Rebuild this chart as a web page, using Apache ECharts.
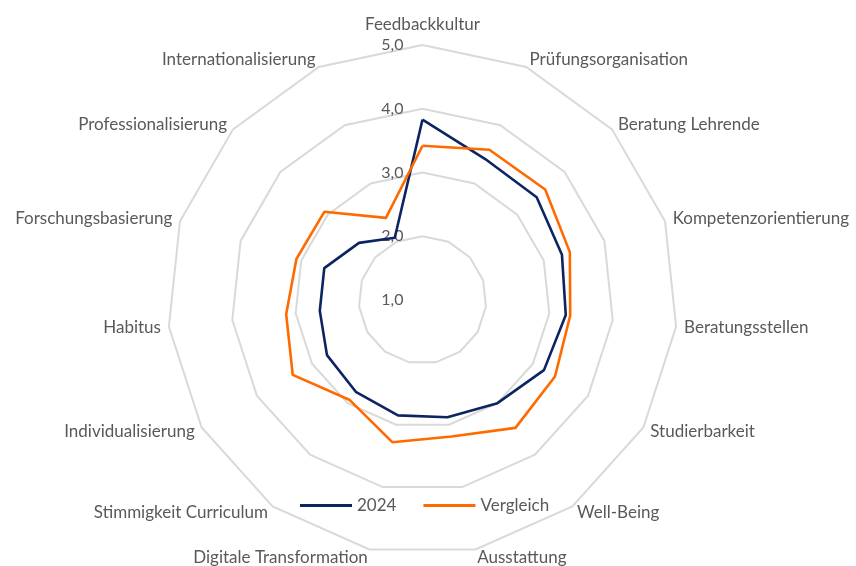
<!DOCTYPE html>
<html>
<head>
<meta charset="utf-8">
<script src="https://cdn.jsdelivr.net/npm/echarts@6/dist/echarts.min.js"></script>
<style>
html,body{margin:0;padding:0;background:#fff;}
#chart{width:856px;height:566px;}
</style>
</head>
<body>
<div id="chart"></div>
<script>
// Indicators in clockwise order starting at the top
const categories = [
  'Feedbackkultur', 'Prüfungsorganisation', 'Beratung Lehrende', 'Kompetenzorientierung',
  'Beratungsstellen', 'Studierbarkeit', 'Well-Being', 'Ausstattung',
  'Digitale Transformation', 'Stimmigkeit Curriculum', 'Individualisierung', 'Habitus',
  'Forschungsbasierung', 'Professionalisierung', 'Internationalisierung'
];
const values2024 = [3.83, 3.42, 3.41, 3.30, 3.26, 3.20, 3.00, 2.88, 2.85, 2.78, 2.73, 2.62, 2.62, 2.34, 2.07];
const valuesVergleich = [3.42, 3.58, 3.59, 3.43, 3.33, 3.40, 3.48, 3.19, 3.28, 2.94, 3.35, 3.15, 3.08, 3.07, 2.41];
const seriesNames = ['2024', 'Vergleich'];
const axisMin = 1;
const axisMax = 5;

// ECharts places indicators counter-clockwise; reorder so they read clockwise
const order = [0].concat(categories.map((_, i) => i).slice(1).reverse());
const reorder = arr => order.map(i => arr[i]);

const FONT = 'Lato';
const TEXT = '#595959';

const indicator = order.map((i, k) => {
  const ind = { name: categories[i], min: axisMin, max: axisMax };
  if (k === 0) {
    ind.axisLabel = {
      show: true,
      fontFamily: FONT,
      fontSize: 16,
      color: TEXT,
      margin: 19,
      formatter: v => v.toFixed(1).replace('.', ',')
    };
  }
  return ind;
});

const chart = echarts.init(document.getElementById('chart'), null, { renderer: 'canvas' });
chart.setOption({
  animation: false,
  backgroundColor: '#ffffff',
  legend: {
    data: seriesNames.map(n => ({ name: n, icon: 'rect' })),
    left: 300,
    top: 497,
    padding: 0,
    itemWidth: 52,
    itemHeight: 3,
    itemGap: 27,
    textStyle: { fontFamily: FONT, fontSize: 17, color: TEXT }
  },
  radar: {
    center: [422.5, 300],
    radius: 255,
    startAngle: 90,
    shape: 'polygon',
    splitNumber: 4,
    indicator: indicator,
    axisName: {
      color: TEXT, fontFamily: FONT, fontSize: 17,
      formatter: (name) => name === categories[0] ? '{top|' + name + '}' : name,
      rich: {
        top: { color: TEXT, fontFamily: FONT, fontSize: 17, padding: [0, 0, 4, 0] }
      }
    },
    nameGap: 8,
    axisLine: { show: false },
    axisTick: { show: false },
    axisLabel: { show: false },
    splitArea: { show: false },
    splitLine: { lineStyle: { color: '#d9d9d9', width: 2 } }
  },
  series: [{
    type: 'radar',
    symbol: 'none',
    data: [
      { name: seriesNames[0], value: reorder(values2024),
        lineStyle: { color: '#0c2560', width: 2.6 }, itemStyle: { color: '#0c2560' } },
      { name: seriesNames[1], value: reorder(valuesVergleich),
        lineStyle: { color: '#ff6a00', width: 2.6 }, itemStyle: { color: '#ff6a00' } }
    ]
  }]
});
</script>
</body>
</html>
